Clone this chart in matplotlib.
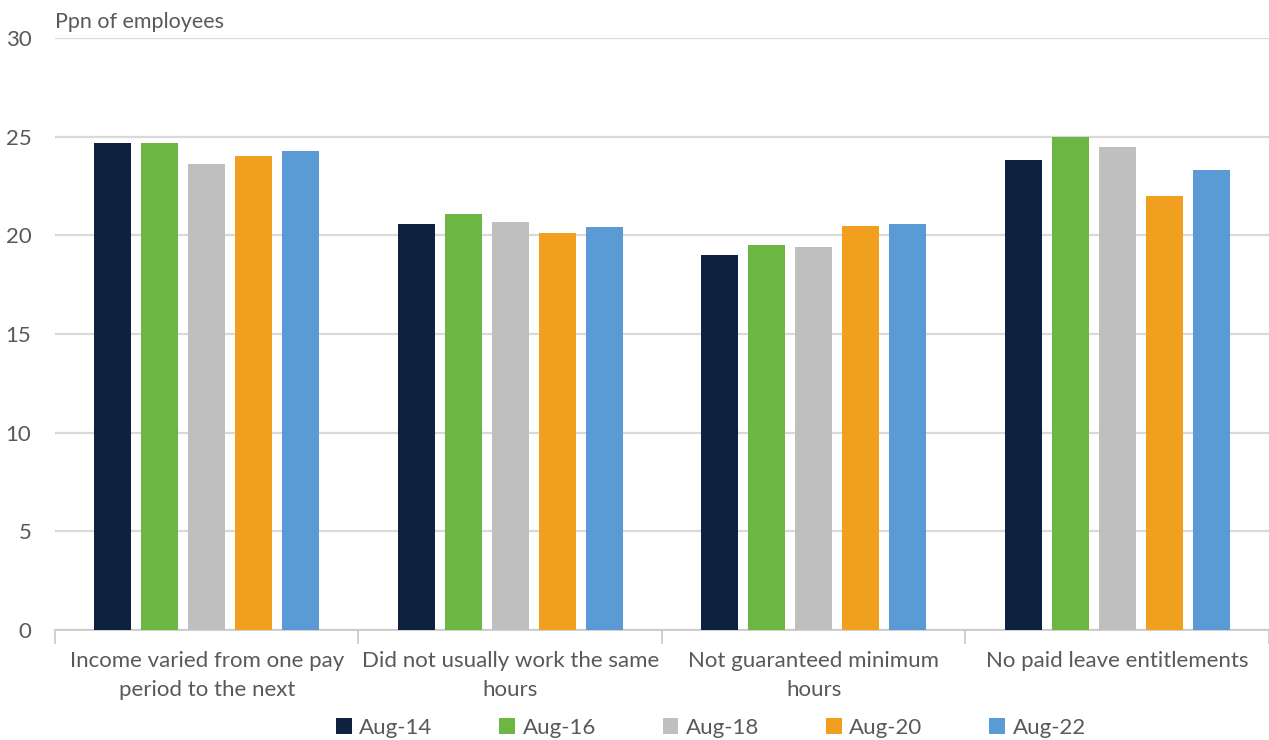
import numpy as np
import matplotlib
matplotlib.use("Agg")
import matplotlib.pyplot as plt
from matplotlib.patches import Patch

# data
categories = [
    "Income varied from one pay\nperiod to the next",
    "Did not usually work the same\nhours",
    "Not guaranteed minimum\nhours",
    "No paid leave entitlements",
]
series_names = ["Aug-14", "Aug-16", "Aug-18", "Aug-20", "Aug-22"]
aug14 = [24.7, 20.6, 19.0, 23.8]
aug16 = [24.7, 21.1, 19.5, 25.0]
aug18 = [23.6, 20.7, 19.4, 24.5]
aug20 = [24.0, 20.1, 20.5, 22.0]
aug22 = [24.3, 20.4, 20.6, 23.3]
colors = ["#0e2240", "#6cb643", "#bfbfbf", "#f0a01e", "#5b9bd5"]

plt.rcParams["font.family"] = ["Lato", "DejaVu Sans"]
text_col = "#595959"

fig = plt.figure(figsize=(12.69, 7.40), dpi=100)
ax = fig.add_axes([0.0433, 0.1486, 0.9567, 0.80])

x = np.arange(len(categories))
slot = 0.155
width = 0.122
all_series = [aug14, aug16, aug18, aug20, aug22]
for i, (vals, c) in enumerate(zip(all_series, colors)):
    ax.bar(x + (i - 2) * slot, vals, width=width, color=c, zorder=3)

ax.set_xlim(-0.5, len(categories) - 0.5)
ax.set_ylim(0, 30)
ax.set_yticks(range(0, 31, 5))
ax.grid(axis="y", color="#d9d9d9", linewidth=1.6, zorder=0)

ax.set_xticks(x)
ax.set_xticklabels(categories, fontsize=16, color=text_col, linespacing=1.6)
ax.tick_params(axis="x", which="major", length=0, pad=15)
ax.set_xticks(np.arange(-0.5, len(categories), 1.0), minor=True)
ax.tick_params(axis="x", which="minor", length=10, width=1.2, color="#c8c8c8")
ax.tick_params(axis="y", length=0, labelsize=16, labelcolor=text_col, pad=17)

for s in ["top", "right", "left"]:
    ax.spines[s].set_visible(False)
ax.spines["bottom"].set_color("#c8c8c8")
ax.spines["bottom"].set_linewidth(1.2)

fig.text(55 / 1269, 1 - 22 / 740, "Ppn of employees", fontsize=15.5,
         color=text_col, ha="left", va="center")

handles = [Patch(facecolor=c, label=n) for n, c in zip(series_names, colors)]
fig.legend(handles=handles, loc="center", bbox_to_anchor=(711 / 1269, 1 - 728 / 740),
           ncol=5, frameon=False, fontsize=16, handlelength=0.7, handleheight=0.7,
           handletextpad=0.35, columnspacing=3.0, labelcolor=text_col)

fig.savefig("out.png", dpi=100)
